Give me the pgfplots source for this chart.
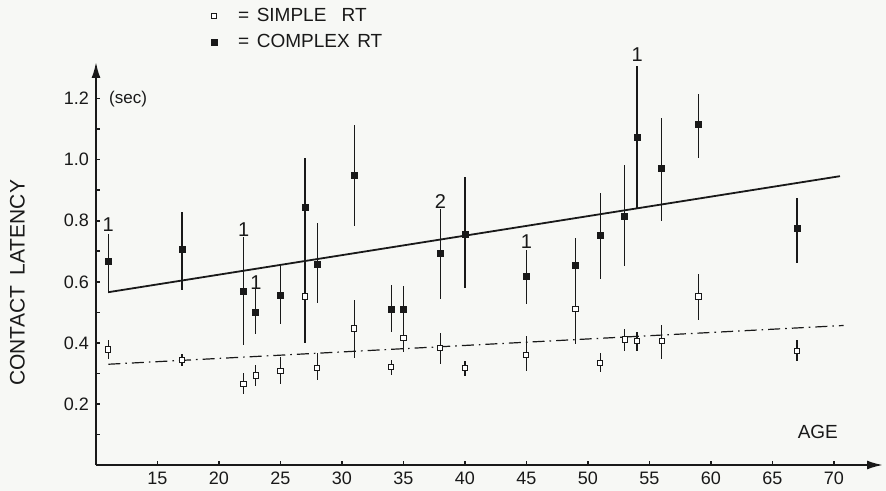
\documentclass[border=0pt]{standalone}
\usepackage{fontspec}
\setmainfont{Liberation Sans}
\usepackage{pgfplots}
\usepackage{pgfplotstable}
\pgfplotsset{compat=1.18}
\usetikzlibrary{arrows.meta}

\definecolor{paper}{RGB}{247,248,245}
\definecolor{ink}{RGB}{25,25,25}

% age, mean, +err, -err
\pgfplotstableread{
x  y     ep    em
11 0.667 0.088 0.102
17 0.705 0.125 0.131
22 0.570 0.177 0.177
23 0.500 0.077 0.070
25 0.557 0.096 0.095
27 0.845 0.161 0.155
28 0.656 0.138 0.124
31 0.948 0.167 0.164
34 0.511 0.080 0.076
35 0.511 0.074 0.075
38 0.694 0.143 0.150
40 0.755 0.188 0.176
45 0.617 0.086 0.091
49 0.655 0.089 0.111
51 0.753 0.138 0.143
53 0.815 0.166 0.162
54 1.074 0.232 0.237
56 0.973 0.165 0.173
59 1.117 0.099 0.110
67 0.774 0.101 0.112
}\complexrt

\pgfplotstableread{
x  y     ep    em
11 0.378 0.030 0.030
17 0.344 0.020 0.019
22 0.266 0.034 0.033
23 0.293 0.033 0.033
25 0.309 0.046 0.043
27 0.552 0.138 0.152
28 0.317 0.049 0.037
31 0.447 0.092 0.097
34 0.320 0.024 0.025
35 0.417 0.033 0.047
38 0.383 0.049 0.052
40 0.319 0.023 0.026
45 0.361 0.063 0.052
49 0.510 0.090 0.113
51 0.334 0.033 0.030
53 0.411 0.035 0.036
54 0.406 0.029 0.031
56 0.407 0.053 0.059
59 0.552 0.074 0.077
67 0.373 0.035 0.031
}\simplert

\begin{document}
\begin{tikzpicture}
\fill[paper, use as bounding box] (-48pt,-13pt) rectangle (395pt,232.5pt);
\begin{axis}[
    at={(0,0)}, anchor=south west,
    scale only axis,
    width=393.5pt, height=201.5pt,
    xmin=10, xmax=74,
    ymin=0, ymax=1.32,
    axis lines=left,
    axis line style={ink, line width=1pt, -{Latex[length=8pt,width=4.5pt]}},
    clip=false,
    xtick={15,20,...,70},
    ytick={0.2,0.4,...,1.2},
    minor ytick={0.1,0.3,...,1.1},
    tick align=inside,
    major tick length=2.2pt,
    minor tick length=2.2pt,
    tick style={ink, line width=0.8pt},
    minor tick style={ink, line width=0.8pt},
    tick label style={font=\fontsize{9}{10}\selectfont, text=ink},
    /pgf/number format/assume math mode=true,
    yticklabel style={/pgf/number format/.cd, fixed, fixed zerofill, precision=1},
    ylabel={CONTACT\hspace{0.5em}LATENCY},
    ylabel style={at={(axis description cs:-0.1,0.452)}, anchor=center,
                  font=\fontsize{10.5}{12}\selectfont, text=ink},
    legend style={at={(axis description cs:0.138,1.155)}, anchor=north west,
                  draw=none, fill=none, font=\fontsize{9.5}{11}\selectfont,
                  text=ink, row sep=1pt},
    legend cell align=left,
    error bars/y dir=both,
    error bars/y explicit,
    error bars/error mark=none,
    error bars/error bar style={ink, line width=0.6pt},
]
\addplot[ink, line width=0.9pt, forget plot] coordinates {(11,0.566) (70.5,0.946)};
\addplot[ink, line width=0.6pt, forget plot,
    dash pattern=on 6pt off 2.5pt on 0.8pt off 2.5pt]
    coordinates {(11,0.330) (70.8,0.457)};

\addplot[only marks, mark=square*, mark size=1.3pt,
    mark options={draw=ink, fill=white, line width=0.5pt}]
    table[x=x, y=y, y error plus=ep, y error minus=em] {\simplert};
\addlegendentry{\hspace{0.9em}=\hspace{0.4em}SIMPLE\hspace{0.8em}RT}

\addplot[only marks, mark=square*, mark size=1.5pt,
    mark options={draw=ink, fill=ink}]
    table[x=x, y=y, y error plus=ep, y error minus=em] {\complexrt};
\addlegendentry{\hspace{0.9em}=\hspace{0.4em}COMPLEX\hspace{0.4em}RT}

\node[font=\fontsize{10}{12}\selectfont, text=ink] at (axis cs:11,0.787) {1};
\node[font=\fontsize{10}{12}\selectfont, text=ink] at (axis cs:22,0.770) {1};
\node[font=\fontsize{10}{12}\selectfont, text=ink] at (axis cs:23,0.596) {1};
\node[font=\fontsize{10}{12}\selectfont, text=ink] at (axis cs:38,0.863) {2};
\node[font=\fontsize{10}{12}\selectfont, text=ink] at (axis cs:45,0.732) {1};
\node[font=\fontsize{10}{12}\selectfont, text=ink] at (axis cs:54,1.344) {1};
\node[anchor=west, font=\fontsize{8.5}{10}\selectfont, text=ink] at (axis cs:10.5,1.197) {(sec)};
\node[font=\fontsize{9.5}{11}\selectfont, text=ink] at (axis cs:68.7,0.108) {AGE};
\end{axis}
\end{tikzpicture}
\end{document}
